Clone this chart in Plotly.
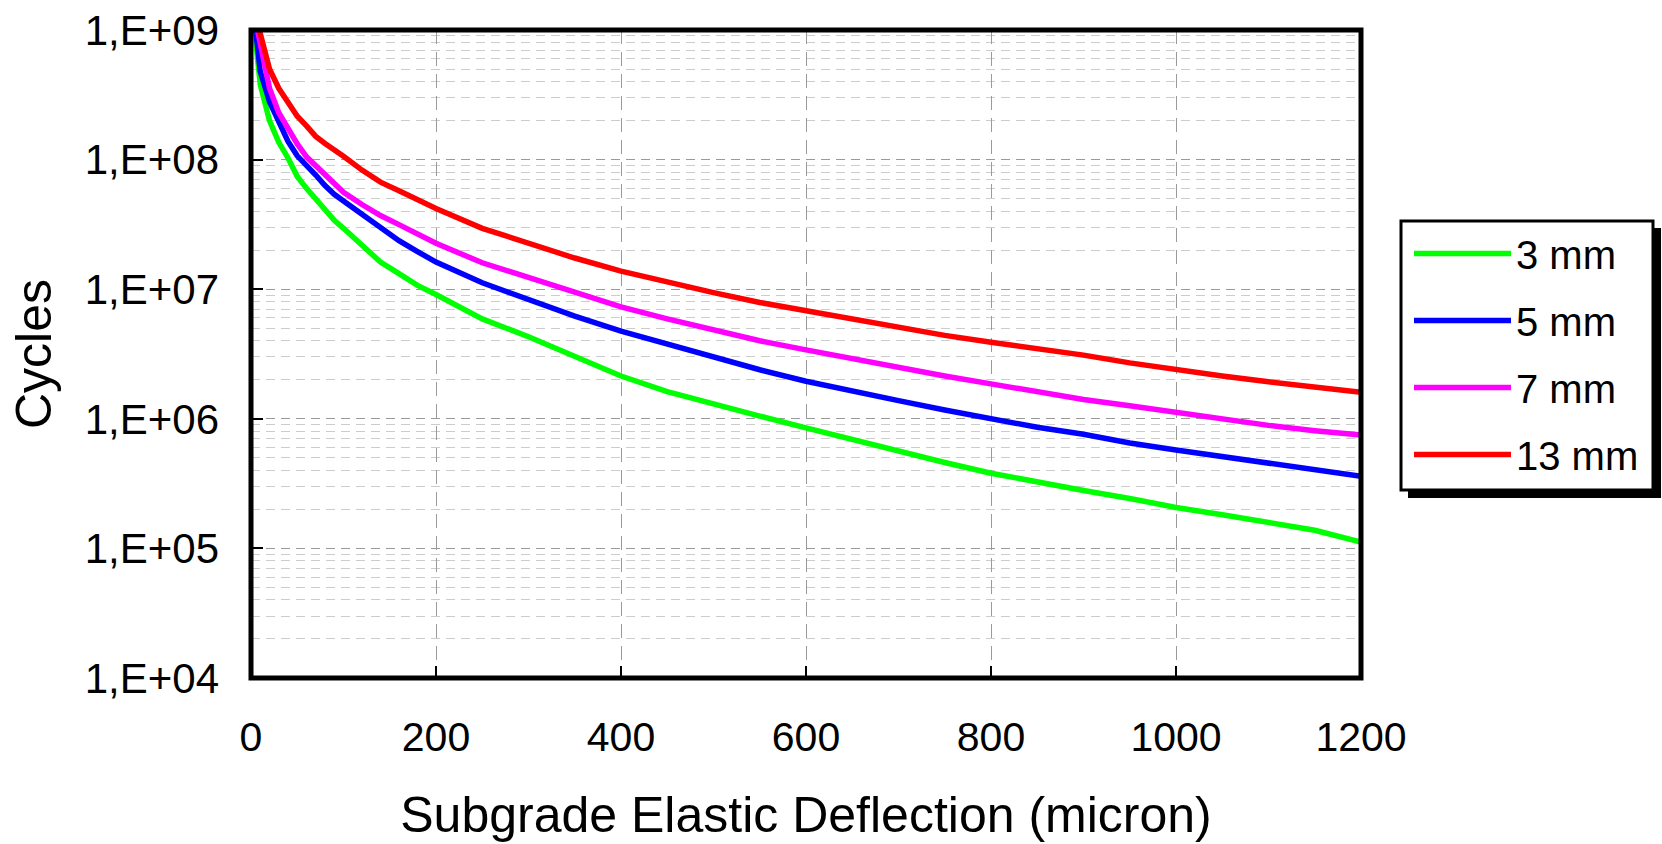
import plotly.graph_objects as go

# ---- data ----
x_3mm = [4, 10, 20, 30, 40, 50, 60, 70, 80, 90, 100, 120, 140, 160, 180, 200, 250, 300, 350, 400,
         450, 500, 550, 600, 650, 700, 750, 800, 850, 900, 950, 1000, 1050, 1100, 1150, 1200]
y_3mm = [1.0e9, 3.8e8, 2.0e8, 1.36e8, 1.03e8, 7.4e7, 6.0e7, 5.0e7, 4.2e7, 3.4e7, 2.95e7, 2.2e7,
         1.62e7, 1.32e7, 1.07e7, 9.1e6, 5.9e6, 4.3e6, 3.0e6, 2.14e6, 1.62e6, 1.29e6, 1.05e6, 8.5e5,
         6.9e5, 5.7e5, 4.6e5, 3.8e5, 3.24e5, 2.8e5, 2.43e5, 2.07e5, 1.82e5, 1.6e5, 1.38e5, 1.12e5]

x_5mm = [5, 10, 20, 30, 40, 50, 60, 70, 80, 90, 100, 120, 140, 160, 180, 200, 250, 300, 350, 400,
         450, 500, 550, 600, 650, 700, 750, 800, 850, 900, 950, 1000, 1050, 1100, 1150, 1200]
y_5mm = [1.0e9, 4.8e8, 2.8e8, 1.95e8, 1.38e8, 1.07e8, 9.1e7, 7.6e7, 6.3e7, 5.4e7, 4.8e7, 3.8e7,
         3.05e7, 2.37e7, 1.95e7, 1.62e7, 1.12e7, 8.3e6, 6.2e6, 4.75e6, 3.75e6, 2.98e6, 2.39e6, 1.95e6,
         1.66e6, 1.38e6, 1.17e6, 1.0e6, 8.6e5, 7.6e5, 6.5e5, 5.75e5, 5.1e5, 4.5e5, 4.0e5, 3.6e5]

x_7mm = [7, 10, 20, 30, 40, 50, 60, 70, 80, 90, 100, 120, 140, 160, 180, 200, 250, 300, 350, 400,
         450, 500, 550, 600, 650, 700, 750, 800, 850, 900, 950, 1000, 1050, 1100, 1150, 1200]
y_7mm = [1.0e9, 7.9e8, 3.55e8, 2.3e8, 1.7e8, 1.32e8, 1.05e8, 8.9e7, 7.6e7, 6.5e7, 5.6e7, 4.5e7,
         3.7e7, 3.15e7, 2.7e7, 2.26e7, 1.6e7, 1.23e7, 9.3e6, 7.3e6, 5.9e6, 4.8e6, 4.0e6, 3.4e6,
         2.9e6, 2.45e6, 2.14e6, 1.86e6, 1.62e6, 1.41e6, 1.26e6, 1.12e6, 1.0e6, 8.9e5, 8.1e5, 7.5e5]

x_13mm = [9, 20, 30, 40, 50, 60, 70, 80, 90, 100, 120, 140, 160, 180, 200, 250, 300, 350, 400,
          450, 500, 550, 600, 650, 700, 750, 800, 850, 900, 950, 1000, 1050, 1100, 1150, 1200]
y_13mm = [1.0e9, 5.0e8, 3.55e8, 2.75e8, 2.16e8, 1.82e8, 1.51e8, 1.33e8, 1.17e8, 1.06e8, 8.3e7,
          6.7e7, 5.75e7, 4.9e7, 4.2e7, 2.95e7, 2.26e7, 1.74e7, 1.38e7, 1.13e7, 9.4e6, 7.9e6, 6.8e6,
          5.8e6, 5.0e6, 4.4e6, 3.9e6, 3.5e6, 3.1e6, 2.7e6, 2.38e6, 2.14e6, 1.93e6, 1.76e6, 1.6e6]

series_names = ["3 mm", "5 mm", "7 mm", "13 mm"]
series_colors = ["#00FF00", "#0000FF", "#FF00FF", "#FF0000"]

y_tickvals = [1e4, 1e5, 1e6, 1e7, 1e8, 1e9]
y_ticktext = ["1,E+04", "1,E+05", "1,E+06", "1,E+07", "1,E+08", "1,E+09"]
x_tickvals = [0, 200, 400, 600, 800, 1000, 1200]
y_minor = [m * 10 ** e for e in range(4, 9) for m in range(2, 10)]

FONT = "Liberation Sans, Arial, sans-serif"

# pixel helpers for paper-coordinate decorations (plot area 251..1361 x 30..678)
def px(xp):
    return (xp - 251) / 1110

def py(yp):
    return (678 - yp) / 648

fig = go.Figure()
for i, (xs, ys) in enumerate([(x_3mm, y_3mm), (x_5mm, y_5mm), (x_7mm, y_7mm), (x_13mm, y_13mm)]):
    fig.add_trace(go.Scatter(
        x=xs, y=ys, mode="lines", name=series_names[i], legendgroup=series_names[i],
        line=dict(color=series_colors[i], width=5.5), cliponaxis=True,
    ))

fig.update_layout(
    width=1662, height=844,
    margin=dict(l=251, r=301, t=30, b=166),
    paper_bgcolor="white", plot_bgcolor="white",
    font=dict(family=FONT, size=40, color="black"),
    showlegend=True,
    legend=dict(
        x=px(1409), y=py(221), xanchor="left", yanchor="top",
        bgcolor="rgba(0,0,0,0)", borderwidth=0,
        font=dict(family=FONT, size=40, color="black"),
        itemwidth=97, tracegroupgap=12, traceorder="grouped",
    ),
    xaxis=dict(
        range=[0, 1200], tickvals=x_tickvals, ticks="inside", ticklen=12, tickwidth=2,
        tickcolor="black", showline=False, zeroline=False,
        showgrid=True, gridcolor="#9a9a9a", gridwidth=1, griddash="14px,8px",
        ticklabelstandoff=31,
        tickfont=dict(family=FONT, size=41, color="black"),
        title=dict(text="Subgrade Elastic Deflection (micron)",
                   font=dict(family=FONT, size=50, color="black"), standoff=37),
        automargin=False,
    ),
    yaxis=dict(
        type="log", range=[4, 9], tickmode="array", tickvals=y_tickvals, ticktext=y_ticktext,
        ticks="inside", ticklen=12, tickwidth=2, tickcolor="black",
        showline=False, zeroline=False,
        showgrid=True, gridcolor="#9a9a9a", gridwidth=1, griddash="9px,6px",
        minor=dict(tickmode="array", tickvals=y_minor, showgrid=True, gridcolor="#cccccc",
                   gridwidth=1, griddash="9px,6px", ticks=""),
        ticklabelstandoff=31,
        tickfont=dict(family=FONT, size=42, color="black"),
        title=dict(text="Cycles", font=dict(family=FONT, size=50, color="black"), standoff=17),
        automargin=False,
    ),
    shapes=[
        # legend shadow
        dict(type="rect", xref="paper", yref="paper",
             x0=px(1408), x1=px(1661), y0=py(498), y1=py(228),
             fillcolor="black", line=dict(width=0), layer="above"),
        # legend box
        dict(type="rect", xref="paper", yref="paper",
             x0=px(1401), x1=px(1653), y0=py(490), y1=py(221),
             fillcolor="white", line=dict(color="black", width=3), layer="above"),
        # plot frame
        dict(type="rect", xref="paper", yref="paper", x0=0, x1=1, y0=0, y1=1,
             line=dict(color="black", width=5), layer="above"),
    ],
)

fig.write_html("out.html")
